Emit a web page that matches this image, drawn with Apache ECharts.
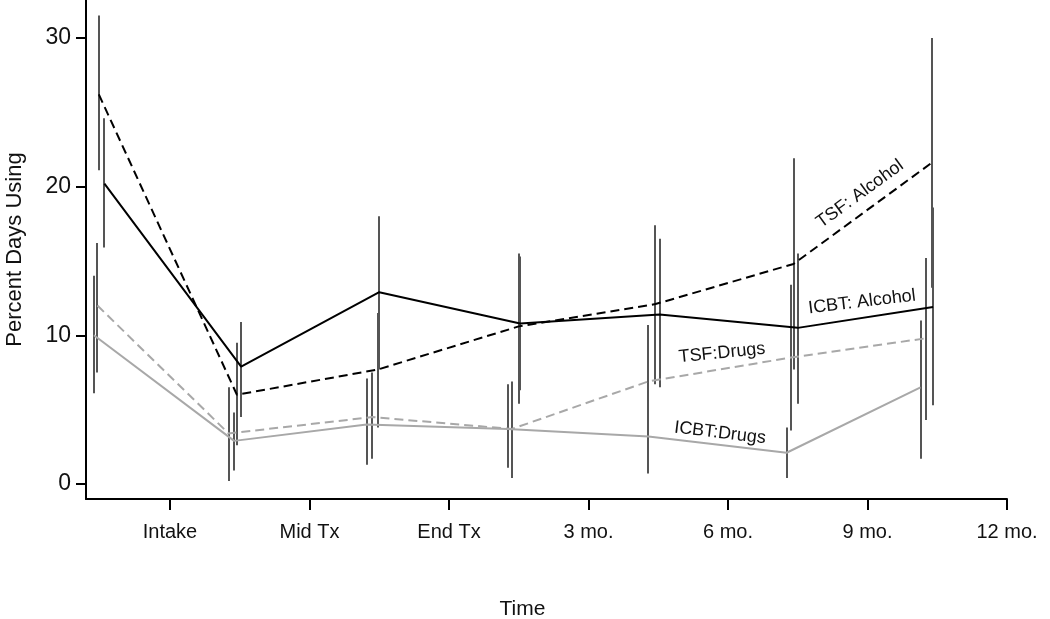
<!DOCTYPE html>
<html>
<head>
<meta charset="utf-8">
<script src="https://cdn.jsdelivr.net/npm/echarts@6/dist/echarts.min.js"></script>
<style>
html,body{margin:0;padding:0;background:#fff;}
#chart{width:1050px;height:619px;}
</style>
</head>
<body>
<div id="chart"></div>
<script>
// Tick labels
const categories = ['Intake', 'Mid Tx', 'End Tx', '3 mo.', '6 mo.', '9 mo.', '12 mo.'];
const yTicks = [0, 10, 20, 30];

// TSF: Alcohol
const tsfAlcX    = [-0.51, 0.48, 1.49, 2.50, 3.48, 4.47, 5.46];
const tsfAlcMean = [26.2, 6.0, 7.7, 10.6, 12.1, 14.8, 21.6];
const tsfAlcLow  = [21.1, 2.6, 3.8, 5.4, 6.7, 7.7, 13.2];
const tsfAlcHigh = [31.5, 9.5, 11.5, 15.5, 17.4, 21.9, 30.0];

// ICBT: Alcohol
const icbtAlcX    = [-0.47, 0.51, 1.50, 2.51, 3.51, 4.50, 5.47];
const icbtAlcMean = [20.2, 7.9, 12.9, 10.8, 11.4, 10.5, 11.9];
const icbtAlcLow  = [15.9, 4.5, 7.7, 6.3, 6.5, 5.4, 5.3];
const icbtAlcHigh = [24.6, 10.9, 18.0, 15.3, 16.5, 15.5, 18.6];

// TSF: Drugs
const tsfDrgX    = [-0.52, 0.42, 1.45, 2.45, 3.43, 4.45, 5.42];
const tsfDrgMean = [12.0, 3.4, 4.5, 3.7, 6.9, 8.5, 9.8];
const tsfDrgLow  = [7.5, 0.2, 1.7, 0.4, 3.0, 3.6, 4.3];
const tsfDrgHigh = [16.2, 6.5, 7.5, 6.9, 10.7, 13.4, 15.2];

// ICBT: Drugs
const icbtDrgX    = [-0.545, 0.46, 1.41, 2.42, 3.43, 4.42, 5.38];
const icbtDrgMean = [10.0, 2.9, 4.0, 3.7, 3.2, 2.1, 6.5];
const icbtDrgLow  = [6.1, 0.9, 1.3, 1.1, 0.7, 0.4, 1.7];
const icbtDrgHigh = [14.0, 4.8, 7.1, 6.7, 5.6, 3.8, 11.0];

const chart = echarts.init(document.getElementById('chart'), null, {renderer: 'canvas'});

function zip(xs, ys) { return xs.map((x, i) => [x, ys[i]]); }

function lineSeries(name, xs, ys, color, dashed) {
  return {
    name: name, type: 'line', data: zip(xs, ys), symbol: 'none',
    lineStyle: {color: color, width: 2, type: dashed ? [9, 5] : 'solid'},
    z: 3, animation: false
  };
}

function errSeries(name, xs, lows, highs) {
  return {
    name: name + ' CI', type: 'custom',
    data: xs.map((x, i) => [x, lows[i], highs[i]]),
    encode: {x: 0, y: [1, 2]},
    clip: false, z: 2, animation: false,
    renderItem: function (params, api) {
      const a = api.coord([api.value(0), api.value(1)]);
      const b = api.coord([api.value(0), api.value(2)]);
      const x = Math.round(a[0]);
      return {
        type: 'line',
        shape: {x1: x, y1: a[1], x2: x, y2: b[1]},
        style: {stroke: '#555', lineWidth: 2}
      };
    }
  };
}

const txtFont = '"Liberation Sans", Arial, sans-serif';

const option = {
  backgroundColor: '#fff',
  animation: false,
  grid: {left: 86, right: 43, top: 0, bottom: 120, outerBoundsMode: 'none', containLabel: false},
  xAxis: {
    type: 'value', min: -0.602, max: 6.0,
    name: 'Time', nameLocation: 'middle', nameGap: 100,
    nameTextStyle: {fontFamily: txtFont, fontSize: 21, color: '#111', padding: [0, 48, 0, 0]},
    axisLine: {show: true, onZero: false, lineStyle: {color: '#000', width: 2}},
    axisTick: {show: true, length: 11, lineStyle: {color: '#000', width: 2}, customValues: [0, 1, 2, 3, 4, 5, 6]},
    axisLabel: {
      customValues: [0, 1, 2, 3, 4, 5, 6],
      formatter: function (v) { return categories[Math.round(v)]; },
      fontFamily: txtFont, fontSize: 20, color: '#111', margin: 23
    },
    splitLine: {show: false}
  },
  yAxis: {
    type: 'value', min: -1.009, max: 32.55,
    name: 'Percent Days Using', nameLocation: 'middle', nameGap: 60, nameRotate: 90,
    nameTextStyle: {fontFamily: txtFont, fontSize: 22, color: '#111'},
    axisLine: {show: true, onZero: false, lineStyle: {color: '#000', width: 2}},
    axisTick: {show: true, length: 10, lineStyle: {color: '#000', width: 2}, customValues: yTicks},
    axisLabel: {
      customValues: yTicks,
      fontFamily: txtFont, fontSize: 23, color: '#111', margin: 15
    },
    splitLine: {show: false}
  },
  series: [
    errSeries('TSF: Alcohol', tsfAlcX, tsfAlcLow, tsfAlcHigh),
    errSeries('ICBT: Alcohol', icbtAlcX, icbtAlcLow, icbtAlcHigh),
    errSeries('TSF: Drugs', tsfDrgX, tsfDrgLow, tsfDrgHigh),
    errSeries('ICBT: Drugs', icbtDrgX, icbtDrgLow, icbtDrgHigh),
    lineSeries('TSF: Drugs', tsfDrgX, tsfDrgMean, '#a8a8a8', true),
    lineSeries('ICBT: Drugs', icbtDrgX, icbtDrgMean, '#a8a8a8', false),
    lineSeries('TSF: Alcohol', tsfAlcX, tsfAlcMean, '#000', true),
    lineSeries('ICBT: Alcohol', icbtAlcX, icbtAlcMean, '#000', false)
  ],
  graphic: [
    {type: 'text', x: 860, y: 194, rotation: 0.63,
     style: {text: 'TSF: Alcohol', font: '18px ' + txtFont, fill: '#111', align: 'center', verticalAlign: 'middle'}},
    {type: 'text', x: 862, y: 302, rotation: 0.12,
     style: {text: 'ICBT: Alcohol', font: '18px ' + txtFont, fill: '#111', align: 'center', verticalAlign: 'middle'}},
    {type: 'text', x: 722, y: 353, rotation: 0.10,
     style: {text: 'TSF:Drugs', font: '18px ' + txtFont, fill: '#111', align: 'center', verticalAlign: 'middle'}},
    {type: 'text', x: 720, y: 433, rotation: -0.12,
     style: {text: 'ICBT:Drugs', font: '18px ' + txtFont, fill: '#111', align: 'center', verticalAlign: 'middle'}}
  ]
};
chart.setOption(option);
</script>
</body>
</html>
